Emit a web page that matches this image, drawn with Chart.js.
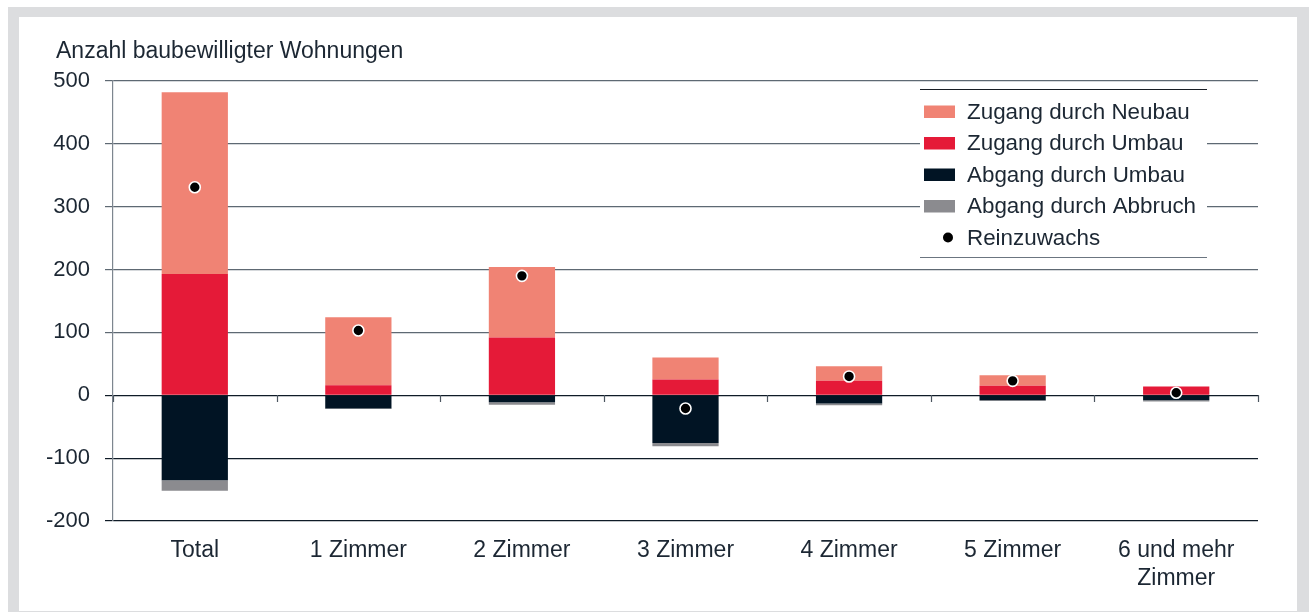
<!DOCTYPE html>
<html>
<head>
<meta charset="utf-8">
<script src="https://cdn.jsdelivr.net/npm/chart.js@4"></script>
<style>
  html, body { margin: 0; padding: 0; background: #ffffff; }
  #frame { position: absolute; left: 8px; top: 7px; width: 1301px; height: 605px; background: #dcdddf; }
  #inner { position: absolute; left: 19px; top: 17px; width: 1278px; height: 594px; background: #ffffff; }
  #c { position: absolute; left: 0; top: 0; }
</style>
</head>
<body>
<div id="frame"></div>
<div id="inner"></div>
<canvas id="c" width="1309" height="612"></canvas>
<script>
const categories = ['Total', '1 Zimmer', '2 Zimmer', '3 Zimmer', '4 Zimmer', '5 Zimmer', ['6 und mehr', 'Zimmer']];
const zugangNeubau = [289, 108, 112, 35, 23, 17, 0];
const zugangUmbau = [193, 16, 92, 25, 23, 15, 14];
const abgangUmbau = [-135, -21, -11, -76, -13, -8, -8];
const abgangAbbruch = [-17, -1, -4, -5, -3, -1, -2];
const reinzuwachs = [331, 103, 190, -21, 30, 23, 4];
const yTicks = [500, 400, 300, 200, 100, 0, -100, -200];
const axisTitle = 'Anzahl baubewilligter Wohnungen';

const FONT = '"Liberation Sans", Arial, sans-serif';
const TEXT = '#1c2733';
const COLORS = {
  neubau: '#f08374',
  umbauZ: '#e51a38',
  umbauA: '#011424',
  abbruch: '#8b8b8f',
  dot: '#000000'
};

const legendPlugin = {
  id: 'customLegend',
  afterDraw(chart) {
    const ctx = chart.ctx;
    ctx.save();
    // axis title
    ctx.font = '23px ' + FONT;
    ctx.fillStyle = TEXT;
    ctx.textBaseline = 'alphabetic';
    ctx.textAlign = 'left';
    ctx.fillText(axisTitle, 56, 58);

    // legend box
    const x0 = 920, x1 = 1207, y0 = 89, y1 = 257;
    ctx.fillStyle = '#ffffff';
    ctx.fillRect(x0, y0, x1 - x0, y1 - y0);
    ctx.lineWidth = 1.2;
    ctx.strokeStyle = '#1a1f26';
    ctx.beginPath(); ctx.moveTo(x0, y0 + 0.5); ctx.lineTo(x1, y0 + 0.5); ctx.stroke();
    ctx.strokeStyle = '#6b7580';
    ctx.beginPath(); ctx.moveTo(x0, y1 + 0.5); ctx.lineTo(x1, y1 + 0.5); ctx.stroke();

    const order = [1, 0, 2, 3, 4];
    ctx.font = '22.4px ' + FONT;
    ctx.textBaseline = 'middle';
    order.forEach((di, i) => {
      const ds = chart.data.datasets[di];
      const cy = 111.5 + i * 31.5;
      if (ds.type === 'line') {
        ctx.fillStyle = ds.pointBackgroundColor;
        ctx.beginPath(); ctx.arc(948, cy, 5, 0, Math.PI * 2); ctx.fill();
      } else {
        ctx.fillStyle = ds.backgroundColor;
        ctx.fillRect(924, cy - 6, 31, 12.5);
      }
      ctx.fillStyle = TEXT;
      ctx.fillText(ds.label, 967, cy + 1);
    });

    // x tick marks hanging from the zero line
    const xs = chart.scales.x, ys = chart.scales.y;
    const y0p = Math.round(ys.getPixelForValue(0));
    ctx.strokeStyle = '#4c5660';
    ctx.lineWidth = 1.2;
    const n = categories.length;
    for (let i = 0; i <= n; i++) {
      let px;
      if (i === 0) px = xs.left;
      else if (i === n) px = xs.right;
      else px = (xs.getPixelForValue(i - 1) + xs.getPixelForValue(i)) / 2;
      px = Math.round(px) + 0.5;
      ctx.beginPath(); ctx.moveTo(px, y0p); ctx.lineTo(px, y0p + 7); ctx.stroke();
    }
    ctx.restore();
  }
};

const barCommon = { categoryPercentage: 1.0, barPercentage: 0.405, borderWidth: 0, order: 1 };

new Chart(document.getElementById('c'), {
  type: 'bar',
  data: {
    labels: categories,
    datasets: [
      Object.assign({ label: 'Zugang durch Umbau', data: zugangUmbau, backgroundColor: COLORS.umbauZ }, barCommon),
      Object.assign({ label: 'Zugang durch Neubau', data: zugangNeubau, backgroundColor: COLORS.neubau }, barCommon),
      Object.assign({ label: 'Abgang durch Umbau', data: abgangUmbau, backgroundColor: COLORS.umbauA }, barCommon),
      Object.assign({ label: 'Abgang durch Abbruch', data: abgangAbbruch, backgroundColor: COLORS.abbruch }, barCommon),
      {
        type: 'line', label: 'Reinzuwachs', data: reinzuwachs, showLine: false, order: -1,
        pointRadius: 5.5, pointBackgroundColor: COLORS.dot, pointBorderColor: '#ffffff', pointBorderWidth: 1.6,
        pointHoverRadius: 5.5
      }
    ]
  },
  options: {
    responsive: false,
    animation: false,
    events: [],
    layout: { padding: { left: 23, top: 81, right: 51, bottom: 1 } },
    plugins: { legend: { display: false }, title: { display: false }, tooltip: { enabled: false } },
    scales: {
      x: {
        stacked: true,
        grid: { display: false },
        border: { display: false },
        ticks: { font: { family: FONT, size: 23, lineHeight: 1.2 }, color: TEXT, padding: 8, maxRotation: 0, autoSkip: false },
        afterFit(s) { s.height = 90; }
      },
      y: {
        stacked: true,
        min: -200, max: 500,
        afterBuildTicks(s) { s.ticks = yTicks.map(v => ({ value: v })); },
        grid: {
          color: (c) => (c.tick && c.tick.value > 0) ? '#5e6973' : '#0f1b27',
          lineWidth: 1.2,
          tickLength: 8,
          drawTicks: true
        },
        border: { display: true, color: '#7d868f', width: 1.2 },
        ticks: { font: { family: FONT, size: 22 }, color: TEXT, padding: 15 },
        afterFit(s) { s.width = 90; }
      }
    }
  },
  plugins: [legendPlugin]
});
</script>
</body>
</html>
